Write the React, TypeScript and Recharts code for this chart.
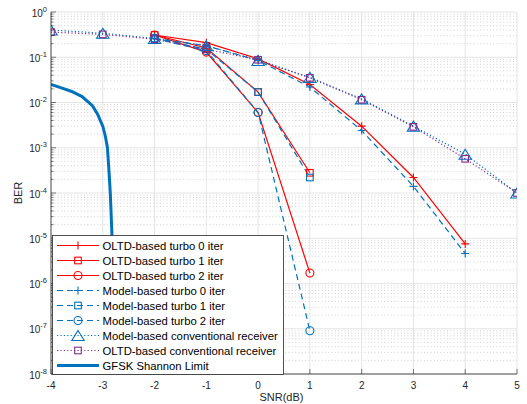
import React from 'react';
import {
  LineChart, Line, XAxis, YAxis, CartesianGrid, Legend,
} from 'recharts';

// ---------- data ----------
const X_TURBO0 = [-2, -1, 0, 1, 2, 3, 4];
const X_TURBO12 = [-2, -1, 0, 1];
const X_CONV = [-4, -3, -2, -1, 0, 1, 2, 3, 4, 5];

const OLTD_TURBO0 = [0.31, 0.21, 0.092, 0.025, 0.003, 2.2e-4, 7.5e-6];
const OLTD_TURBO1 = [0.31, 0.16, 0.017, 2.8e-4];
const OLTD_TURBO2 = [0.31, 0.13, 0.006, 1.7e-6];
const MODEL_TURBO0 = [0.26, 0.18, 0.085, 0.022, 0.0024, 1.4e-4, 4.6e-6];
const MODEL_TURBO1 = [0.26, 0.15, 0.017, 2.2e-4];
const MODEL_TURBO2 = [0.26, 0.14, 0.006, 9e-8];
const MODEL_CONV = [0.4, 0.34, 0.26, 0.18, 0.085, 0.036, 0.012, 0.003, 7.2e-4, 1.0e-4];
const OLTD_CONV = [0.36, 0.32, 0.25, 0.15, 0.088, 0.035, 0.0115, 0.0029, 5.7e-4, 1.0e-4];

const X_SHANNON = [-4, -3.8, -3.6, -3.4, -3.2, -3.1, -3.0, -2.95, -2.91, -2.88, -2.855, -2.82, -2.79, -2.77, -2.75];
const SHANNON = [0.025, 0.021, 0.0175, 0.0135, 0.0085, 0.0055, 0.003, 0.0018, 0.001, 3e-4, 1e-4, 1e-5, 1e-6, 1e-7, 1e-8];

const X_TICKS = [-4, -3, -2, -1, 0, 1, 2, 3, 4, 5];
const Y_EXPONENTS = [-8, -7, -6, -5, -4, -3, -2, -1, 0];

const pts = (xs: number[], ys: number[]) => xs.map((x, i) => ({ x, y: ys[i] }));

const RED = '#FF0000';
const BLUE = '#0072BD';
const PURPLE = '#7E2F8E';
const AX = '#262626';
const FONT = '"Liberation Sans", Arial, Helvetica, sans-serif';

type MarkerType = 'plus' | 'square' | 'circle' | 'triangle' | 'none';

const SERIES: { name: string; data: { x: number; y: number }[]; color: string; dash?: string; marker: MarkerType; width: number }[] = [
  { name: 'OLTD-based turbo 0 iter', data: pts(X_TURBO0, OLTD_TURBO0), color: RED, marker: 'plus', width: 1.2 },
  { name: 'OLTD-based turbo 1 iter', data: pts(X_TURBO12, OLTD_TURBO1), color: RED, marker: 'square', width: 1.2 },
  { name: 'OLTD-based turbo 2 iter', data: pts(X_TURBO12, OLTD_TURBO2), color: RED, marker: 'circle', width: 1.2 },
  { name: 'Model-based turbo 0 iter', data: pts(X_TURBO0, MODEL_TURBO0), color: BLUE, dash: '6 4', marker: 'plus', width: 1.2 },
  { name: 'Model-based turbo 1 iter', data: pts(X_TURBO12, MODEL_TURBO1), color: BLUE, dash: '6 4', marker: 'square', width: 1.2 },
  { name: 'Model-based turbo 2 iter', data: pts(X_TURBO12, MODEL_TURBO2), color: BLUE, dash: '6 4', marker: 'circle', width: 1.2 },
  { name: 'Model-based conventional receiver', data: pts(X_CONV, MODEL_CONV), color: BLUE, dash: '1.2 2.2', marker: 'triangle', width: 1.2 },
  { name: 'OLTD-based conventional receiver', data: pts(X_CONV, OLTD_CONV), color: PURPLE, dash: '1.2 2.2', marker: 'square', width: 1.2 },
  { name: 'GFSK Shannon Limit', data: pts(X_SHANNON, SHANNON), color: BLUE, marker: 'none', width: 3 },
];

const Y_TICKS: number[] = [];
const Y_MAJOR: number[] = [];
const Y_MINOR: number[] = [];
Y_EXPONENTS.forEach((e) => {
  Y_TICKS.push(Math.pow(10, e));
  Y_MAJOR.push(Math.pow(10, e));
  if (e < 0) {
    for (let k = 2; k <= 9; k++) {
      Y_TICKS.push(k * Math.pow(10, e));
      Y_MINOR.push(k * Math.pow(10, e));
    }
  }
});
const Y_MIN_EXP = Y_EXPONENTS[0];
const Y_MAX_EXP = Y_EXPONENTS[Y_EXPONENTS.length - 1];

const isMajor = (v: number) => {
  const e = Math.round(Math.log10(v));
  return Math.abs(v - Math.pow(10, e)) < 1e-6 * v;
};

// log-axis pixel position for grid lines (grid only, not data)
const gridPos = (args: any, v: number) => {
  const s = args?.yAxis?.scale;
  if (typeof s === 'function') return s(v);
  if (s && typeof s.map === 'function') return s.map(v);
  const o = args.offset;
  const t = (Math.log10(v) - Y_MIN_EXP) / (Y_MAX_EXP - Y_MIN_EXP);
  return o.top + o.height * (1 - t);
};

function Marker({ type, cx, cy, color }: { type: MarkerType; cx: number; cy: number; color: string }) {
  const common = { stroke: color, strokeWidth: 1.1, fill: 'none', strokeDasharray: 'none' } as any;
  switch (type) {
    case 'plus':
      return <path d={`M${cx - 4},${cy}H${cx + 4}M${cx},${cy - 4}V${cy + 4}`} {...common} />;
    case 'square':
      return <rect x={cx - 3.3} y={cy - 3.3} width={6.6} height={6.6} {...common} />;
    case 'circle':
      return <circle cx={cx} cy={cy} r={4} {...common} />;
    case 'triangle':
      return <polygon points={`${cx},${cy - 5} ${cx + 6.2},${cy + 5} ${cx - 6.2},${cy + 5}`} {...common} />;
    default:
      return null;
  }
}

const BottomTick = (props: any) => {
  const { x, y, payload } = props;
  return (
    <g>
      <line x1={x} x2={x} y1={y} y2={y - 5} stroke={AX} strokeWidth={0.6} />
      <text x={x} y={y + 14.5} textAnchor="middle" fontSize={10} fontFamily={FONT} fill={AX}>
        {`${payload.value}`}
      </text>
    </g>
  );
};

const TopTick = (props: any) => {
  const { x, y } = props;
  return <line x1={x} x2={x} y1={y} y2={y + 5} stroke={AX} strokeWidth={0.6} />;
};

const LeftTick = (props: any) => {
  const { x, y, payload } = props;
  const v = payload.value;
  const major = isMajor(v);
  const e = Math.round(Math.log10(v));
  return (
    <g>
      <line x1={x} x2={x + (major ? 5 : 2.5)} y1={y} y2={y} stroke={AX} strokeWidth={0.6} />
      {major && (
        <text x={x - 4} y={y + 4.5} textAnchor="end" fontFamily={FONT} fill={AX} fontSize={10}>
          <tspan>10</tspan>
          <tspan fontSize={7.5} dy={-5}>{`${e}`}</tspan>
        </text>
      )}
    </g>
  );
};

const RightTick = (props: any) => {
  const { x, y, payload } = props;
  const major = isMajor(payload.value);
  return <line x1={x} x2={x - (major ? 5 : 2.5)} y1={y} y2={y} stroke={AX} strokeWidth={0.6} />;
};

const LegendBox = () => {
  const rowH = 15;
  return (
    <svg width={232} height={140} style={{ display: 'block' }}>
      <rect x={0.5} y={0.5} width={231} height={139} fill="#fff" stroke={AX} strokeWidth={0.8} />
      {SERIES.map((s, i) => {
        const cy = 10.5 + i * rowH;
        return (
          <g key={s.name}>
            <line x1={5} x2={47} y1={cy} y2={cy} stroke={s.color} strokeWidth={s.width} strokeDasharray={s.dash} />
            <Marker type={s.marker} cx={26} cy={cy} color={s.color} />
            <text x={50.5} y={cy + 4} fontSize={11.3} fontFamily={FONT} fill="#000">{s.name}</text>
          </g>
        );
      })}
    </svg>
  );
};

export default function App() {
  return (
    <div style={{ position: 'absolute', left: 0, top: 0, width: 527, height: 404, background: '#fff' }}>
      <LineChart width={527} height={404} margin={{ top: 12, right: 10, bottom: 0, left: 0 }}>
        <CartesianGrid
          vertical={false}
          horizontalCoordinatesGenerator={(args: any) => Y_MINOR.map((v) => gridPos(args, v))}
          stroke="#b4b4b4"
          strokeWidth={0.6}
          strokeDasharray="1 2.3"
        />
        <CartesianGrid
          horizontalCoordinatesGenerator={(args: any) => Y_MAJOR.map((v) => gridPos(args, v))}
          stroke="#dedede"
          strokeWidth={0.8}
        />
        <XAxis
          dataKey="x"
          type="number"
          domain={[-4, 5]}
          ticks={X_TICKS}
          interval={0}
          height={30}
          tickSize={0}
          tickMargin={0}
          tickLine={false}
          axisLine={{ stroke: AX, strokeWidth: 0.8 }}
          tick={<BottomTick />}
          allowDataOverflow
          label={{
            content: () => (
              <text x={281.5} y={401} textAnchor="middle" fontSize={11} fontFamily={FONT} fill={AX}>SNR(dB)</text>
            ),
          }}
        />
        <XAxis
          xAxisId="top"
          orientation="top"
          dataKey="x"
          type="number"
          domain={[-4, 5]}
          ticks={X_TICKS}
          interval={0}
          height={0}
          tickSize={0}
          tickMargin={0}
          tickLine={false}
          axisLine={{ stroke: AX, strokeWidth: 0.8 }}
          tick={<TopTick />}
          allowDataOverflow
        />
        <YAxis
          scale="log"
          type="number"
          domain={[1e-8, 1]}
          ticks={Y_TICKS}
          interval={0}
          width={51}
          tickSize={0}
          tickMargin={0}
          tickLine={false}
          axisLine={{ stroke: AX, strokeWidth: 0.8 }}
          tick={<LeftTick />}
          allowDataOverflow
          label={{
            content: () => (
              <text x={22} y={193} transform="rotate(-90 22 193)" textAnchor="middle" fontSize={11} fontFamily={FONT} fill={AX}>BER</text>
            ),
          }}
        />
        <YAxis
          yAxisId="right"
          orientation="right"
          scale="log"
          type="number"
          domain={[1e-8, 1]}
          ticks={Y_TICKS}
          interval={0}
          width={0}
          tickSize={0}
          tickMargin={0}
          tickLine={false}
          axisLine={{ stroke: AX, strokeWidth: 0.8 }}
          tick={<RightTick />}
          allowDataOverflow
        />
        {SERIES.map((s) => (
          <Line
            key={s.name}
            data={s.data}
            dataKey="y"
            name={s.name}
            type="linear"
            stroke={s.color}
            strokeWidth={s.width}
            strokeDasharray={s.dash}
            isAnimationActive={false}
            dot={(p: any) => <Marker key={`${s.name}-${p.index}`} type={s.marker} cx={p.cx} cy={p.cy} color={s.color} />}
            activeDot={false}
          />
        ))}
        <Legend
          layout="vertical"
          align="center"
          verticalAlign="middle"
          content={() => <LegendBox />}
          wrapperStyle={{ position: 'absolute', left: 52, top: 234.5, width: 232, height: 140 }}
        />
      </LineChart>
    </div>
  );
}
